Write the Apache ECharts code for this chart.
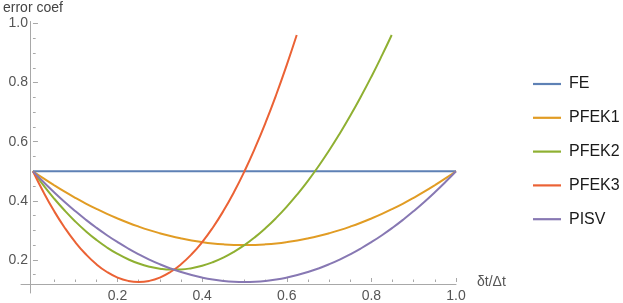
<!DOCTYPE html>
<html>
<head>
<meta charset="utf-8">
<script src="https://cdn.jsdelivr.net/npm/echarts@6/dist/echarts.min.js"></script>
<style>html,body{margin:0;padding:0;background:#fff}#c{width:623px;height:303px}</style>
</head>
<body>
<div id="c"></div>
<script>
// Data
var seriesNames = ['FE', 'PFEK1', 'PFEK2', 'PFEK3', 'PISV'];
var xs = [0, 0.025, 0.05, 0.075, 0.1, 0.125, 0.15, 0.175, 0.2, 0.225, 0.25, 0.275, 0.3, 0.325, 0.35, 0.375, 0.4, 0.425, 0.45, 0.475, 0.5,
          0.525, 0.55, 0.575, 0.6, 0.625, 0.65, 0.675, 0.7, 0.725, 0.75, 0.775, 0.8, 0.825, 0.85, 0.875, 0.9, 0.925, 0.95, 0.975, 1.0];
var feX = [0, 1.0];
var feY = [0.5, 0.5];
var pfek1Y = [0.5, 0.4756, 0.4525, 0.4306, 0.41, 0.3906, 0.3725, 0.3556, 0.34, 0.3256, 0.3125, 0.3006, 0.29, 0.2806, 0.2725, 0.2656, 0.26, 0.2556, 0.2525, 0.2506, 0.25,
              0.2506, 0.2525, 0.2556, 0.26, 0.2656, 0.2725, 0.2806, 0.29, 0.3006, 0.3125, 0.3256, 0.34, 0.3556, 0.3725, 0.3906, 0.41, 0.4306, 0.4525, 0.4756, 0.5];
var pfek2X = [0, 0.025, 0.05, 0.075, 0.1, 0.125, 0.15, 0.175, 0.2, 0.225, 0.25, 0.275, 0.3, 0.325, 0.35, 0.375, 0.4, 0.425, 0.45, 0.475, 0.5,
              0.525, 0.55, 0.575, 0.6, 0.625, 0.65, 0.675, 0.7, 0.725, 0.75, 0.775, 0.8, 0.825, 0.848];
var pfek2Y = [0.5, 0.4519, 0.4075, 0.3669, 0.33, 0.2969, 0.2675, 0.2419, 0.22, 0.2019, 0.1875, 0.1769, 0.17, 0.1669, 0.1675, 0.1719, 0.18, 0.1919, 0.2075, 0.2269, 0.25,
              0.2769, 0.3075, 0.3419, 0.38, 0.4219, 0.4675, 0.5169, 0.57, 0.6269, 0.6875, 0.7519, 0.82, 0.8919, 0.961];
var pfek3X = [0, 0.025, 0.05, 0.075, 0.1, 0.125, 0.15, 0.175, 0.2, 0.225, 0.25, 0.275, 0.3, 0.325, 0.35, 0.375, 0.4, 0.425, 0.45, 0.475, 0.5,
              0.525, 0.55, 0.575, 0.6, 0.6235];
var pfek3Y = [0.5, 0.4288, 0.365, 0.3088, 0.26, 0.2188, 0.185, 0.1588, 0.14, 0.1288, 0.125, 0.1288, 0.14, 0.1588, 0.185, 0.2188, 0.26, 0.3088, 0.365, 0.4288, 0.5,
              0.5788, 0.665, 0.7588, 0.86, 0.961];
var pisvY = [0.5, 0.4634, 0.4287, 0.3959, 0.365, 0.3359, 0.3087, 0.2834, 0.26, 0.2384, 0.2187, 0.2009, 0.185, 0.1709, 0.1587, 0.1484, 0.14, 0.1334, 0.1287, 0.1259, 0.125,
             0.1259, 0.1287, 0.1334, 0.14, 0.1484, 0.1587, 0.1709, 0.185, 0.2009, 0.2187, 0.2384, 0.26, 0.2834, 0.3087, 0.3359, 0.365, 0.3959, 0.4287, 0.4634, 0.5];
var xMajorTicks = [0.2, 0.4, 0.6, 0.8, 1.0];
var xMinorTicks = [0.05, 0.1, 0.15, 0.25, 0.3, 0.35, 0.45, 0.5, 0.55, 0.65, 0.7, 0.75, 0.85, 0.9, 0.95];
var yMajorTicks = [0.2, 0.4, 0.6, 0.8, 1.0];
var yMinorTicks = [0.15, 0.25, 0.3, 0.35, 0.45, 0.5, 0.55, 0.65, 0.7, 0.75, 0.85, 0.9, 0.95];
var colors = ['#5E81B5', '#E19C24', '#8FB032', '#EB6235', '#8778B3'];

function zip(a, b) { return a.map(function (v, i) { return [v, b[i]]; }); }

var axisGray = '#a8a8a8';
var labelGray = '#555555';
var font = '"Liberation Sans", Arial, sans-serif';

var chart = echarts.init(document.getElementById('c'), null, {renderer: 'canvas'});
var seriesData = [zip(feX, feY), zip(xs, pfek1Y), zip(pfek2X, pfek2Y), zip(pfek3X, pfek3Y), zip(xs, pisvY)];

chart.setOption({
  animation: false,
  color: colors,
  grid: [
    {left: 30, right: 167, top: 23.5, bottom: 18.5},
    {left: 21, right: 167, top: 23.5, bottom: 18.5},
    {left: 30, right: 167, top: 21.5, bottom: 10}
  ],
  xAxis: [
    {type: 'value', gridIndex: 0, min: 0, max: 1.0, position: 'bottom',
     axisLine: {show: false}, splitLine: {show: false},
     axisTick: {show: true, inside: true, length: 4, customValues: xMajorTicks, lineStyle: {color: axisGray}},
     axisLabel: {customValues: xMajorTicks, color: labelGray, fontSize: 14, fontFamily: font, margin: 7,
       formatter: function (v) { return v.toFixed(1); }},
     name: 'δt/Δt', nameLocation: 'end', nameGap: 21,
     nameTextStyle: {color: labelGray, fontSize: 14, fontFamily: font, verticalAlign: 'middle'}},
    {type: 'value', gridIndex: 0, min: 0, max: 1.0, position: 'bottom',
     axisLine: {show: false}, splitLine: {show: false}, axisLabel: {show: false},
     axisTick: {show: true, inside: true, length: 2.5, customValues: xMinorTicks, lineStyle: {color: axisGray}}},
    {type: 'value', gridIndex: 1, min: 0, max: 1, position: 'bottom',
     axisLine: {show: true, lineStyle: {color: axisGray, width: 1}}, splitLine: {show: false},
     axisTick: {show: false}, axisLabel: {show: false}},
    {type: 'value', gridIndex: 2, min: 0, max: 1, show: false}
  ],
  yAxis: [
    {type: 'value', gridIndex: 0, min: 0.125, max: 1.0, position: 'left',
     axisLine: {show: false}, splitLine: {show: false},
     axisTick: {show: true, inside: true, length: 5, customValues: yMajorTicks, lineStyle: {color: axisGray}},
     axisLabel: {customValues: yMajorTicks, color: labelGray, fontSize: 14, fontFamily: font, margin: 5,
       formatter: function (v) { return v.toFixed(1); }},
     name: 'error coef', nameLocation: 'end', nameGap: 8,
     nameTextStyle: {color: '#444444', fontSize: 14, fontFamily: font, align: 'center'}},
    {type: 'value', gridIndex: 0, min: 0.125, max: 1.0, position: 'left',
     axisLine: {show: false}, splitLine: {show: false}, axisLabel: {show: false},
     axisTick: {show: true, inside: true, length: 2.7, customValues: yMinorTicks, lineStyle: {color: axisGray}}},
    {type: 'value', gridIndex: 1, min: 0, max: 1, show: false},
    {type: 'value', gridIndex: 2, min: 0, max: 1, position: 'left',
     axisLine: {show: true, lineStyle: {color: axisGray, width: 1}}, splitLine: {show: false},
     axisTick: {show: false}, axisLabel: {show: false}}
  ],
  legend: {
    orient: 'vertical', left: 528, top: 71,
    icon: 'rect', itemWidth: 28, itemHeight: 2.2, itemGap: 17.8,
    textStyle: {color: '#1a1a1a', fontSize: 16, fontFamily: font, padding: [0, 0, 0, 3]},
    data: seriesNames
  },
  series: seriesNames.map(function (n, i) {
    return {
      name: n, type: 'line', xAxisIndex: 0, yAxisIndex: 0,
      data: seriesData[i], smooth: true, symbol: 'none', showSymbol: false, clip: false,
      lineStyle: {width: 2, color: colors[i]}, itemStyle: {color: colors[i]},
      z: 3
    };
  })
});
</script>
</body>
</html>
